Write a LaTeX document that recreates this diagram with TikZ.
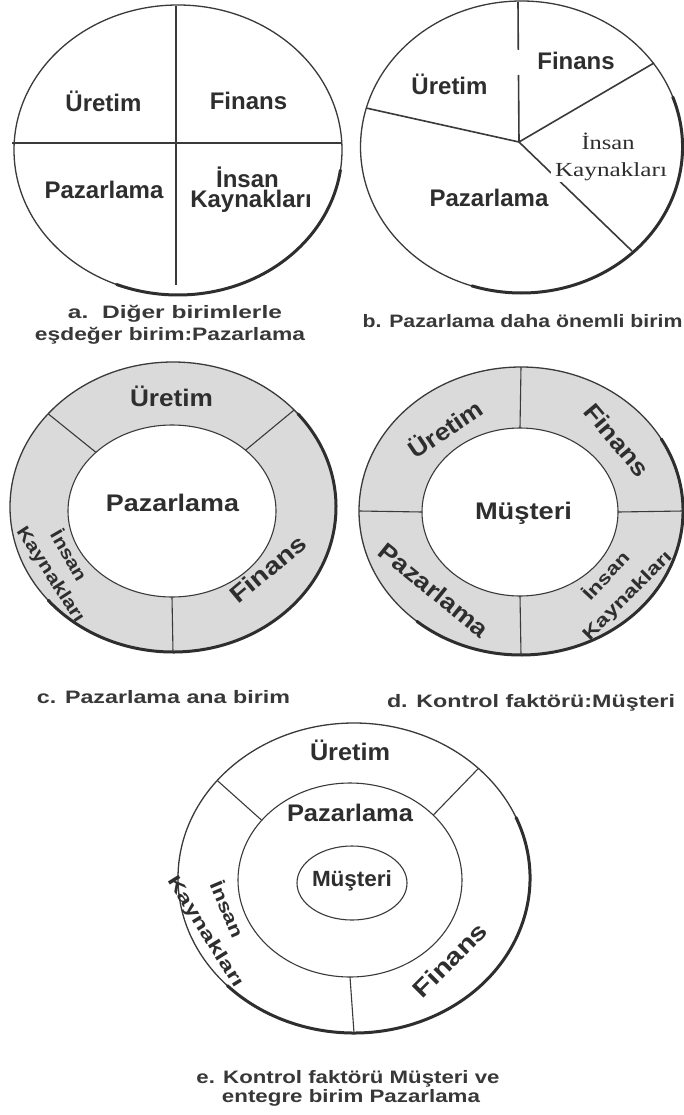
\documentclass[tikz,border=0pt]{standalone}
\usepackage{fontspec}
\setmainfont{Liberation Sans}
\newfontfamily\serifface{Liberation Serif}
\usepackage{graphicx}
\definecolor{txt}{HTML}{2E2E2E}
\definecolor{captc}{HTML}{383838}
\definecolor{lc}{HTML}{3A3A3A}
\definecolor{ringc}{HTML}{DADADA}
\newcommand\fitw[2]{\resizebox{#1}{\height}{#2}}
\tikzset{
  outline/.style={draw=lc, line width=1.3pt},
  divider/.style={draw=lc, line width=1.6pt},
  ringline/.style={draw=lc, line width=1.1pt},
  rimshadow/.style={draw=lc!80!black, line width=3pt, line cap=round},
  lbl/.style={font=\bfseries\fontsize{24}{28}\selectfont, text=txt, inner sep=0pt, anchor=base},
  rlbl/.style={font=\bfseries\fontsize{24}{28}\selectfont, text=txt, inner sep=0pt, anchor=center},
  slbl/.style={font=\bfseries\fontsize{18}{21}\selectfont, text=txt, inner sep=0pt, anchor=center},
  serlbl/.style={font=\serifface\fontsize{20}{24}\selectfont, text=txt, inner ysep=1pt, inner xsep=4pt, anchor=base, fill=white},
  captxt/.style={font=\bfseries\fontsize{18}{21}\selectfont, text=captc, inner sep=0pt, anchor=base},
}
\begin{document}
\begin{tikzpicture}[x=1pt,y=1pt]
\useasboundingbox (0,0) rectangle (684,-1115);
\fill[white] (0,0) rectangle (684,-1115);

% ---------------- a ----------------
\coordinate (A) at (178,-150);
\draw[outline] (A) ellipse [x radius=164pt, y radius=145pt];
\draw[rimshadow, shift={(0.8,-0.8)}] (A) ++(-8:164pt and 145pt) arc[start angle=-8, end angle=-112, x radius=164pt, y radius=145pt];
\coordinate (aT) at (176,-6);
\coordinate (aB) at (176,-285);
\coordinate (aL) at (12,-143);
\coordinate (aR) at (341,-143);
\draw[divider] (aT) -- (aB);
\draw[divider] (aL) -- (aR);
\node[lbl] (aUre) at (103.5,-112) {Üretim};
\node[lbl] (aFin) at (248.5,-110) {Finans};
\node[lbl] (aPaz) at (104,-199) {Pazarlama};
\node[lbl] (aIns) at (247.5,-188) {İnsan};
\node[lbl] (aKay) at (251,-208) {Kaynakları};
\node[captxt] (aCap1) at (175,-318) {\fitw{214pt}{a.\ \ Diğer birimlerle}};
\node[captxt] (aCap2) at (170,-340) {\fitw{270pt}{eşdeğer birim:Pazarlama}};

% ---------------- b ----------------
\coordinate (B) at (521.5,-147);
\draw[outline] (B) ellipse [x radius=161pt, y radius=146pt];
\draw[rimshadow, shift={(0.8,-0.8)}] (B) ++(20:161pt and 146pt) arc[start angle=20, end angle=-108, x radius=161pt, y radius=146pt];
\coordinate (bH) at (519,-142);
\coordinate (bT) at (518,-2);
\coordinate (bG1) at (518.3,-50);
\coordinate (bG2) at (518.5,-75);
\coordinate (bL) at (366,-108);
\coordinate (bUR) at (654,-63);
\coordinate (bLR) at (632,-251);
\draw[divider] (bT) -- (bG1);
\draw[divider] (bG2) -- (bH);
\draw[divider] (bH) -- (bL);
\draw[divider] (bH) -- (bUR);
\draw[divider] (bH) -- (bLR);
\node[lbl] (bUre) at (449.5,-95) {Üretim};
\node[lbl] (bFin) at (576,-70) {Finans};
\node[lbl] (bPaz) at (489,-207) {Pazarlama};
\node[serlbl] (bIns) at (608,-150) {\fitw{53pt}{İnsan}};
\node[serlbl] (bKay) at (611,-177) {\fitw{112pt}{Kaynakları}};
\node[captxt] (bCap) at (522.5,-327) {\fitw{320pt}{b. Pazarlama daha önemli birim}};

% ---------------- c ----------------
\coordinate (C) at (173,-507);
\coordinate (Ci) at (172,-511);
\fill[ringc] (C) ellipse [x radius=163pt, y radius=145pt];
\fill[white] (Ci) ellipse [x radius=104pt, y radius=86pt];
\draw[outline] (C) ellipse [x radius=163pt, y radius=145pt];
\draw[ringline] (Ci) ellipse [x radius=104pt, y radius=86pt];
\draw[rimshadow, shift={(0.8,-0.8)}] (C) ++(40:163pt and 145pt) arc[start angle=40, end angle=-140, x radius=163pt, y radius=145pt];
\path (C) ++(140:163pt and 145pt) coordinate (c1o);
\path (Ci) ++(137:104pt and 86pt) coordinate (c1i);
\path (C) ++(42:163pt and 145pt) coordinate (c2o);
\path (Ci) ++(45:104pt and 86pt) coordinate (c2i);
\path (C) ++(270:163pt and 145pt) coordinate (c3o);
\path (Ci) ++(270:104pt and 86pt) coordinate (c3i);
\draw[ringline] (c1o) -- (c1i);
\draw[ringline] (c2o) -- (c2i);
\draw[ringline] (c3o) -- (c3i);
\node[lbl] (cUre) at (171.5,-406.5) {\fitw{83pt}{Üretim}};
\node[lbl] (cPaz) at (172.5,-511.5) {\fitw{133pt}{Pazarlama}};
\node[rlbl, rotate=40] (cFin) at (268,-569) {\fitw{91pt}{Finans}};
\node[slbl, rotate=-60] (cIns) at (70,-555) {\fitw{55pt}{İnsan}};
\node[slbl, rotate=-57] (cKay) at (50,-575) {\fitw{110pt}{Kaynakları}};
\node[captxt] (cCap) at (163.5,-703) {\fitw{253pt}{c. Pazarlama ana birim}};

% ---------------- d ----------------
\coordinate (D) at (521,-511);
\coordinate (Di) at (520,-512);
\fill[ringc] (D) ellipse [x radius=162pt, y radius=144pt];
\fill[white] (Di) ellipse [x radius=98pt, y radius=84pt];
\draw[outline] (D) ellipse [x radius=162pt, y radius=144pt];
\draw[ringline] (Di) ellipse [x radius=98pt, y radius=84pt];
\draw[rimshadow, shift={(0.8,-0.8)}] (D) ++(30:162pt and 144pt) arc[start angle=30, end angle=-130, x radius=162pt, y radius=144pt];
\path (D) ++(90:162pt and 144pt) coordinate (d1o);
\path (Di) ++(90:98pt and 84pt) coordinate (d1i);
\path (D) ++(270:162pt and 144pt) coordinate (d2o);
\path (Di) ++(270:98pt and 84pt) coordinate (d2i);
\path (D) ++(180:162pt and 144pt) coordinate (d3o);
\path (Di) ++(180:98pt and 84pt) coordinate (d3i);
\path (D) ++(0:162pt and 144pt) coordinate (d4o);
\path (Di) ++(0:98pt and 84pt) coordinate (d4i);
\draw[ringline] (d1o) -- (d1i);
\draw[ringline] (d2o) -- (d2i);
\draw[ringline] (d3o) -- (d3i);
\draw[ringline] (d4o) -- (d4i);
\node[lbl] (dMus) at (523.5,-519) {\fitw{97pt}{Müşteri}};
\node[rlbl, rotate=34] (dUre) at (445,-428) {\fitw{84pt}{Üretim}};
\node[rlbl, rotate=-50] (dFin) at (617,-440) {\fitw{87pt}{Finans}};
\node[rlbl, rotate=-39] (dPaz) at (434,-590) {\fitw{134pt}{Pazarlama}};
\node[slbl, rotate=47] (dIns) at (605,-575) {\fitw{59pt}{İnsan}};
\node[slbl, rotate=45] (dKay) at (628,-596) {\fitw{118pt}{Kaynakları}};
\node[captxt] (dCap) at (531,-707) {\fitw{288pt}{d. Kontrol faktörü:Müşteri}};

% ---------------- e ----------------
\coordinate (E) at (354,-878);
\coordinate (Em) at (350,-880);
\coordinate (Ei) at (352,-883);
\draw[outline] (E) ellipse [x radius=176pt, y radius=155pt];
\draw[ringline] (Em) ellipse [x radius=112pt, y radius=97pt];
\draw[ringline] (Ei) ellipse [x radius=55pt, y radius=37pt];
\draw[rimshadow, shift={(0.8,-0.8)}] (E) ++(23:176pt and 155pt) arc[start angle=23, end angle=-136, x radius=176pt, y radius=155pt];
\path (E) ++(141:176pt and 155pt) coordinate (e1o);
\path (Em) ++(142:112pt and 97pt) coordinate (e1i);
\path (E) ++(45:176pt and 155pt) coordinate (e2o);
\path (Em) ++(42:112pt and 97pt) coordinate (e2i);
\path (E) ++(270:176pt and 155pt) coordinate (e3o);
\path (Em) ++(270:112pt and 97pt) coordinate (e3i);
\draw[ringline] (e1o) -- (e1i);
\draw[ringline] (e2o) -- (e2i);
\draw[ringline] (e3o) -- (e3i);
\node[lbl] (eUre) at (350,-760) {\fitw{80pt}{Üretim}};
\node[lbl] (ePaz) at (350,-821.5) {\fitw{126pt}{Pazarlama}};
\node[lbl, font=\bfseries\fontsize{22}{26}\selectfont] (eMus) at (352,-886.5) {\fitw{80pt}{Müşteri}};
\node[rlbl, rotate=45] (eFin) at (450,-960) {\fitw{94pt}{Finans}};
\node[slbl, rotate=-67] (eIns) at (228,-909) {\fitw{60pt}{İnsan}};
\node[slbl, rotate=-58] (eKay) at (205,-932) {\fitw{128pt}{Kaynakları}};
\node[captxt] (eCap1) at (348,-1083) {\fitw{303pt}{e. Kontrol faktörü Müşteri ve}};
\node[captxt] (eCap2) at (351,-1102) {\fitw{258pt}{entegre birim Pazarlama}};
\end{tikzpicture}
\end{document}
